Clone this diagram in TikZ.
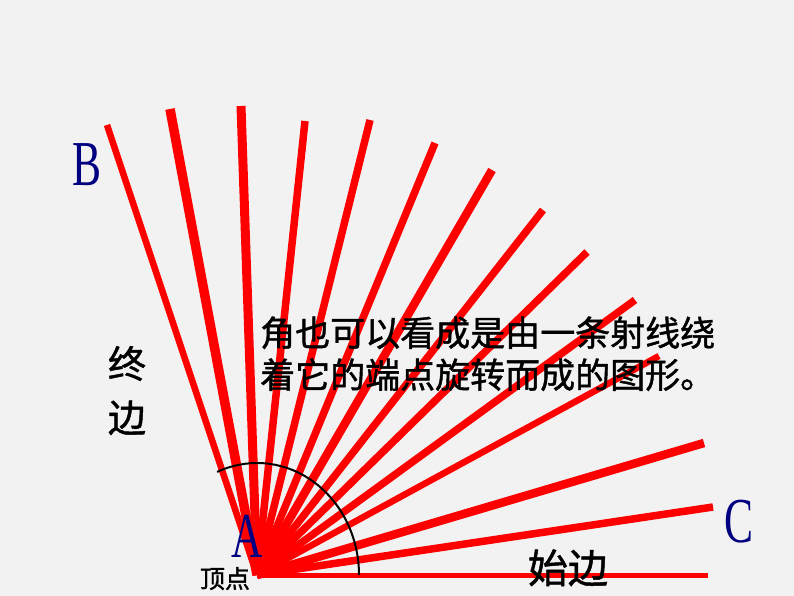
\documentclass[tikz,border=0pt]{standalone}
\usepackage{fontspec}
\setmainfont{Liberation Serif}
\newfontfamily\cjk[FakeBold=1.2]{Noto Sans CJK SC}
\usetikzlibrary{calc}
\definecolor{bg}{RGB}{242,242,242}
\definecolor{letterblue}{RGB}{0,0,128}
\tikzset{
  ray/.style={red, line width=#1},
  vertexlabel/.style={letterblue, inner sep=0pt, anchor=base, xscale=0.68,
    font=\fontsize{64}{64}\selectfont},
  cjktext/.style={inner sep=0pt, font=\cjk\fontsize{#1}{#1}\selectfont},
}

\begin{document}
\begin{tikzpicture}[x=1pt,y=-1pt]
% Background and page size
\fill[bg] (0,0) rectangle (794,596);
\useasboundingbox (0,0) rectangle (794,596);
% The vertex of the angle
\coordinate (A) at (257,575);
% Rays turning round the vertex, from the terminal side down to the initial side
\foreach \x/\y/\w [count=\i] in {107/125/6.5, 170/109/9.5, 241/106/9, 305/121/7.5,
    370/120/7.5, 435/143/7.5, 492/170/8.5, 543/210/7.5, 587/252/7.5, 635/300/7.5,
    659/356/6.5, 704/443/8.5, 713/507/7.5, 708/575/5} {
  \coordinate (r\i) at (\x,\y);
  \draw[ray=\w pt] (A) -- (r\i);
}
% Arc marking the angle
\draw[line width=2pt] ($(A)+(102,0)$)
  arc[start angle=0, end angle=-113, x radius=102, y radius=112];
% Letters at the vertex and the ends of the sides
\node[vertexlabel] (B) at (87,185) {B};
\node[vertexlabel] (Alabel) at (247,557) {A};
\node[vertexlabel] (C) at (739,542) {C};
% Texts
\node[cjktext=35, anchor=base west] (line1) at (260,346) {角也可以看成是由一条射线绕};
\node[cjktext=35, anchor=base west] (line2) at (260,388) {着它的端点旋转而成的图形。};
\node[cjktext=38, anchor=base] (end1) at (127,378) {终};
\node[cjktext=38, anchor=base] (end2) at (127,432) {边};
\node[cjktext=40, anchor=base] (start) at (568,583) {始边};
\node[cjktext=25, anchor=base] (vertex) at (225,588) {顶点};
\end{tikzpicture}
\end{document}
